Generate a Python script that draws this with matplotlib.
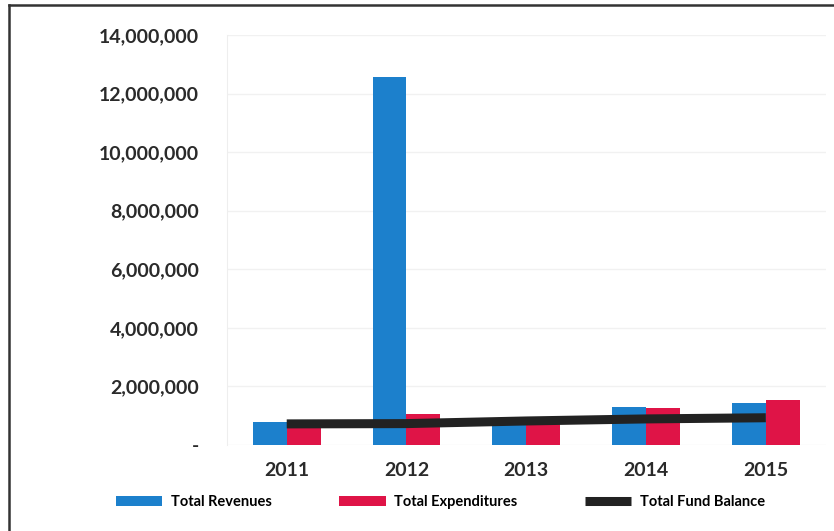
import numpy as np
import matplotlib
matplotlib.use("Agg")
import matplotlib.pyplot as plt
from matplotlib.lines import Line2D

years = ["2011", "2012", "2013", "2014", "2015"]
revenues = [790000, 12570000, 880000, 1300000, 1450000]
expenditures = [580000, 1060000, 830000, 1270000, 1520000]
fund_balance = [720000, 730000, 820000, 890000, 930000]
yticks = [0, 2000000, 4000000, 6000000, 8000000, 10000000, 12000000, 14000000]
ytick_labels = ["-", "2,000,000", "4,000,000", "6,000,000", "8,000,000",
                "10,000,000", "12,000,000", "14,000,000"]

blue = "#1c80cc"
red = "#df1447"
dark = "#222222"

plt.rcParams['font.family'] = ['Lato', 'DejaVu Sans']

fig = plt.figure(figsize=(8.34, 5.31), dpi=100, facecolor="white")
ax = fig.add_axes([0.272, 0.162, 0.718, 0.772])

x = np.arange(len(years))
w = 0.282
b1 = ax.bar(x - w / 2, revenues, width=w, color=blue, label="Total Revenues", zorder=2)
b2 = ax.bar(x + w / 2, expenditures, width=w, color=red, label="Total Expenditures", zorder=2)
ln, = ax.plot(x, fund_balance, color=dark, linewidth=6.5, solid_capstyle="butt",
              label="Total Fund Balance", zorder=3)

ax.set_xlim(-0.5, len(years) - 0.5)
ax.set_ylim(0, 14000000)
ax.set_xticks(x)
ax.set_xticklabels(years, fontsize=14, fontweight="bold", color="#2a2a2a")
ax.set_yticks(yticks)
ax.set_yticklabels(ytick_labels, fontsize=14, fontweight="bold", color="#2a2a2a")
ax.tick_params(length=0)
ax.tick_params(axis="y", pad=20)
ax.tick_params(axis="x", pad=12)
ax.grid(axis="y", color="#f1f1f1", linewidth=1, zorder=0)
for s in ["top", "right", "bottom"]:
    ax.spines[s].set_visible(False)
ax.spines["left"].set_color("#eeeeee")

fig.legend([b1, b2, ln], ["Total Revenues", "Total Expenditures", "Total Fund Balance"],
           loc="center", bbox_to_anchor=(0.528, 0.054), ncol=3,
           frameon=False, prop={"size": 10.5, "weight": "bold"},
           handlelength=3.2, handleheight=0.7, handletextpad=0.6,
           columnspacing=4.6)

# outer frame of the scanned box
fig.add_artist(Line2D([9 / 834, 1.0], [1 - 5 / 531, 1 - 5 / 531],
                      transform=fig.transFigure, color="#333333", linewidth=1.8))
fig.add_artist(Line2D([9 / 834, 9 / 834], [0.0, 1 - 5 / 531],
                      transform=fig.transFigure, color="#333333", linewidth=1.8))

fig.savefig("out.png", dpi=100, facecolor="white")
